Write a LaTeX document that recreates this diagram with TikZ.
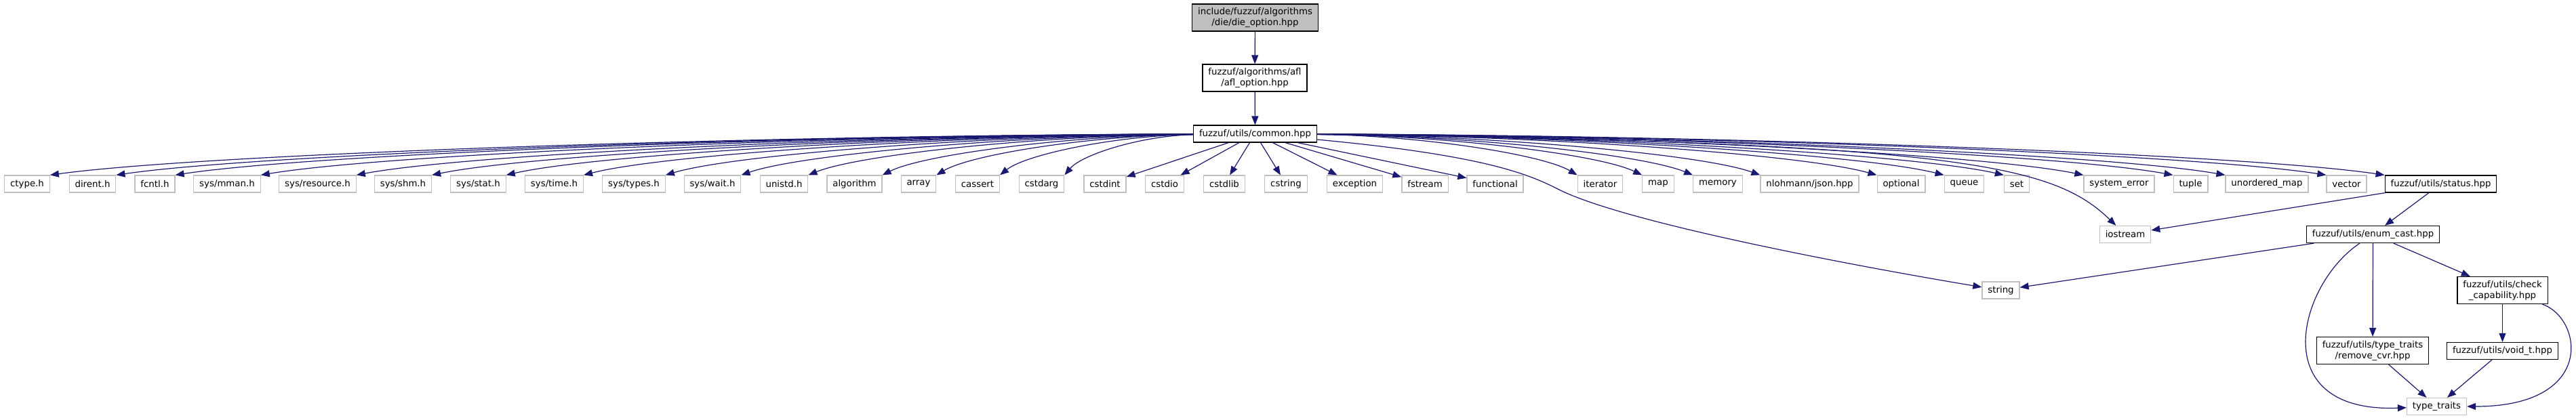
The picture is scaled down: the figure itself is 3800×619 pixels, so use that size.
\documentclass[tikz,border=0pt]{standalone}
\usepackage{fontspec}
\setmainfont{DejaVu Sans}
\usepackage{tikz}
\usetikzlibrary{arrows.meta}

\definecolor{edgeblue}{HTML}{191970}
\definecolor{extgray}{HTML}{BFBFBF}

\tikzset{
  hdr/.style={draw=black, fill=white, line width=1.2pt, inner xsep=8.4pt, inner ysep=2pt,
    minimum height=25pt, align=center, font=\fontsize{13.33}{16}\selectfont},
  ext/.style={hdr, draw=extgray},
  rootbox/.style={hdr, fill=extgray},
  twoline/.style={minimum height=40pt},
  dep/.style={edgeblue, line width=1.2pt, -{Triangle[length=13pt,width=10pt]}},
}

\begin{document}
\begin{tikzpicture}[x=1pt,y=1pt]
\useasboundingbox (0,0) rectangle (3800,-619);

% --- TOP CHAIN ---
\node[rootbox, twoline] (dieopt) at (1851.5,-26) {include/fuzzuf/algorithms\\/die/die\_option.hpp};
\node[hdr, twoline] (afl) at (1851,-115) {fuzzuf/algorithms/afl\\/afl\_option.hpp};
\node[hdr] (common) at (1851.5,-197.5) {fuzzuf/utils/common.hpp};

% --- SYSTEM / STD HEADERS ---
\node[ext] (ctype) at (40,-271.5) {ctype.h};
\node[ext] (dirent) at (136.5,-271.5) {dirent.h};
\node[ext] (fcntl) at (228.5,-271.5) {fcntl.h};
\node[ext] (sysmman) at (335,-271.5) {sys/mman.h};
\node[ext] (sysres) at (468.5,-271.5) {sys/resource.h};
\node[ext] (sysshm) at (594.5,-271.5) {sys/shm.h};
\node[ext] (sysstat) at (705.5,-271.5) {sys/stat.h};
\node[ext] (systime) at (817.5,-271.5) {sys/time.h};
\node[ext] (systypes) at (935,-271.5) {sys/types.h};
\node[ext] (syswait) at (1051,-271.5) {sys/wait.h};
\node[ext] (unistd) at (1156.5,-271.5) {unistd.h};
\node[ext] (algorithm) at (1260.5,-271.5) {algorithm};
\node[ext] (array) at (1355,-271.5) {array};
\node[ext] (cassert) at (1442,-271.5) {cassert};
\node[ext] (cstdarg) at (1536.5,-271.5) {cstdarg};
\node[ext] (cstdint) at (1630,-271.5) {cstdint};
\node[ext] (cstdio) at (1718,-271.5) {cstdio};
\node[ext] (cstdlib) at (1806,-271.5) {cstdlib};
\node[ext] (cstring) at (1897,-271.5) {cstring};
\node[ext] (exception) at (1998.5,-271.5) {exception};
\node[ext] (fstream) at (2102,-271.5) {fstream};
\node[ext] (functional) at (2205.5,-271.5) {functional};
\node[ext] (iterator) at (2360.5,-271.5) {iterator};
\node[ext] (map) at (2446,-271.5) {map};
\node[ext] (memory) at (2534,-271.5) {memory};
\node[ext] (json) at (2669.5,-271.5) {nlohmann/json.hpp};
\node[ext] (optional) at (2804.5,-271.5) {optional};
\node[ext] (queue) at (2897.5,-271.5) {queue};
\node[ext] (set) at (2975,-271.5) {set};
\node[ext] (syserr) at (3126,-271.5) {system\_error};
\node[ext] (tuple) at (3231.5,-271.5) {tuple};
\node[ext] (unordmap) at (3344,-271.5) {unordered\_map};
\node[ext] (vector) at (3461.5,-271.5) {vector};
\node[hdr] (status) at (3600.5,-271.5) {fuzzuf/utils/status.hpp};

% --- LOWER LEVELS ---
\node[ext] (iostream) at (3135,-346) {iostream};
\node[hdr] (enumcast) at (3500.5,-346) {fuzzuf/utils/enum\_cast.hpp};
\node[ext] (string) at (2951.5,-428.5) {string};
\node[hdr, twoline] (checkcap) at (3691.5,-428.5) {fuzzuf/utils/check\\\_capability.hpp};
\node[hdr, twoline] (removecvr) at (3500,-517.5) {fuzzuf/utils/type\_traits\\/remove\_cvr.hpp};
\node[hdr] (voidt) at (3691.5,-518) {fuzzuf/utils/void\_t.hpp};
\node[ext] (typetraits) at (3594.5,-600) {type\_traits};

% --- EDGES ---
\draw[dep] (dieopt) -- (afl);
\draw[dep] (afl) -- (common);

% fan to the left
\draw[dep] (common) .. controls (1086,-200) and (294,-228) .. (ctype.north east);
\draw[dep] (common) .. controls (1125,-200) and (378,-228) .. (dirent.north east);
\draw[dep] (common) .. controls (1160,-200) and (455,-228) .. (fcntl.north east);
\draw[dep] (common) .. controls (1210,-200) and (565,-228) .. (sysmman.north east);
\draw[dep] (common) .. controls (1266,-200) and (686,-228) .. (sysres.north east);
\draw[dep] (common) .. controls (1311,-200) and (784,-228) .. (sysshm.north east);
\draw[dep] (common) .. controls (1355,-200) and (880,-228) .. (sysstat.north east);
\draw[dep] (common) .. controls (1401,-200) and (979,-228) .. (systime.north east);
\draw[dep] (common) .. controls (1449,-200) and (1084,-228) .. (systypes.north east);
\draw[dep] (common) .. controls (1494,-200) and (1181,-228) .. (syswait.north east);
\draw[dep] (common) .. controls (1534,-200) and (1268,-228) .. (unistd.north east);
\draw[dep] (common) .. controls (1577,-200) and (1362,-228) .. (algorithm.north east);
\draw[dep] (common) .. controls (1609,-200) and (1432,-228) .. (array.north east);
\draw[dep] (common) .. controls (1646,-200) and (1513,-228) .. (cassert.north east);
\draw[dep] (common) .. controls (1685,-200) and (1596,-228) .. (cstdarg.north east);

% straight down
\draw[dep] (common) -- (cstdint);
\draw[dep] (common) -- (cstdio);
\draw[dep] (common) -- (cstdlib);
\draw[dep] (common) -- (cstring);
\draw[dep] (common) -- (exception);
\draw[dep] (common) -- (fstream);
\draw[dep] (common) -- (functional);

% fan to the right
\draw[dep] (common) .. controls (2096,-200) and (2275,-228) .. (iterator.north west);
\draw[dep] (common) .. controls (2134,-200) and (2359,-228) .. (map.north west);
\draw[dep] (common) .. controls (2164,-200) and (2423,-228) .. (memory.north west);
\draw[dep] (common) .. controls (2205,-200) and (2512,-228) .. (json.north west);
\draw[dep] (common) .. controls (2273,-200) and (2660,-228) .. (optional.north west);
\draw[dep] (common) .. controls (2312,-200) and (2746,-228) .. (queue.north west);
\draw[dep] (common) .. controls (2347,-200) and (2823,-228) .. (set.north west);
\draw[dep] (common) .. controls (2395,-200) and (2925,-228) .. (syserr.north west);
\draw[dep] (common) .. controls (2447,-200) and (3040,-228) .. (tuple.north west);
\draw[dep] (common) .. controls (2479,-200) and (3109,-228) .. (unordmap.north west);
\draw[dep] (common) .. controls (2538,-200) and (3237,-228) .. (vector.north west);
\draw[dep] (common) .. controls (2573,-200) and (3312,-228) .. (status.north west);

% long ones
\draw[dep] (common) .. controls (2900,-210) and (3030,-245) .. (iostream);
\draw[dep] (common) .. controls (2200,-230) and (2260,-260) .. (2300,-280)
  .. controls (2400,-330) and (2750,-395) .. (string);

% status subtree
\draw[dep] (status) -- (iostream);
\draw[dep] (status) -- (enumcast);
\draw[dep] (enumcast) -- (string);
\draw[dep] (enumcast) -- (checkcap);
\draw[dep] (enumcast) -- (removecvr);
\draw[dep] (enumcast) .. controls (3390,-420) and (3340,-610) .. (typetraits);
\draw[dep] (checkcap) -- (voidt);
\draw[dep] (checkcap) .. controls (3810,-470) and (3830,-600) .. (typetraits);
\draw[dep] (removecvr) -- (typetraits);
\draw[dep] (voidt) -- (typetraits);
\end{tikzpicture}
\end{document}
